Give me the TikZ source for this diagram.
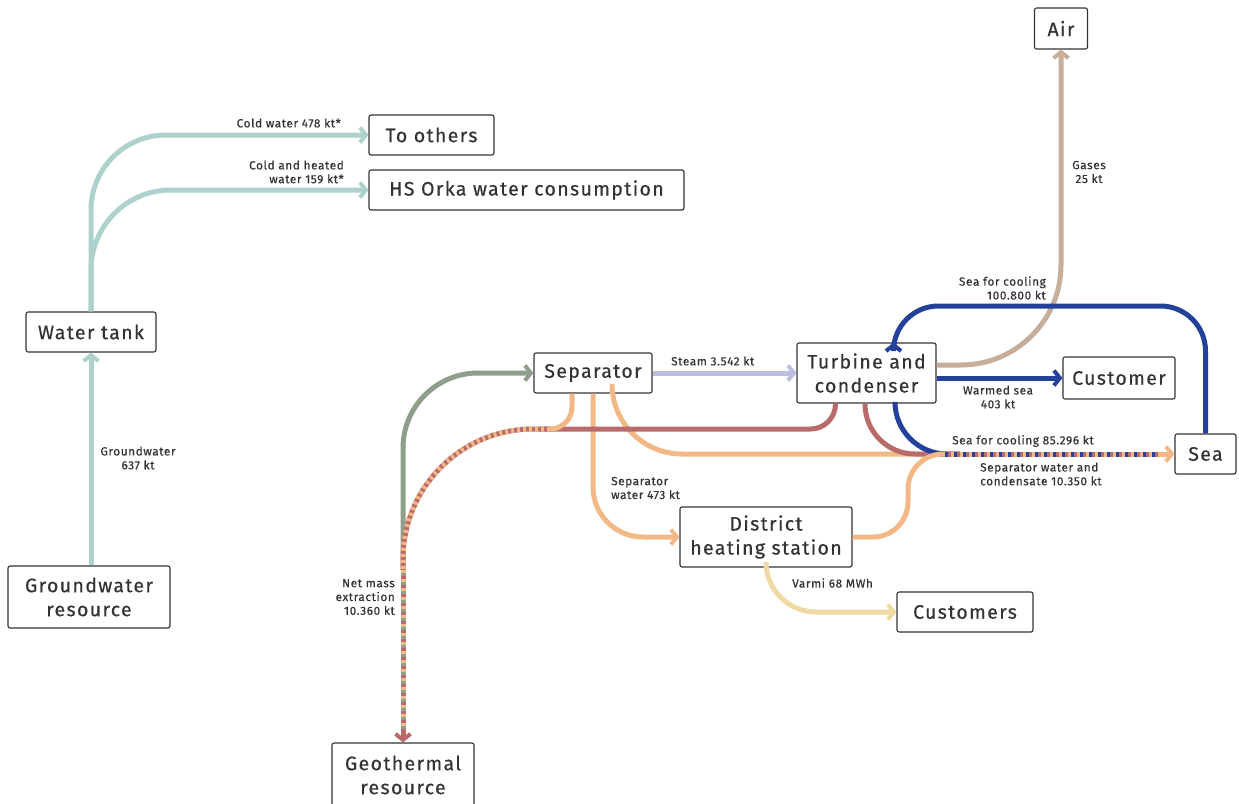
\documentclass[tikz,border=0pt]{standalone}
\usepackage{fontspec}
\setmainfont{Fira Sans}
\newfontfamily\boxfont{Fira Sans}[LetterSpace=7, FakeBold=0.5]
\newfontfamily\lblfont{Fira Sans}[LetterSpace=5, FakeBold=0.4]
\usetikzlibrary{arrows.meta}
\definecolor{cTeal}{HTML}{AED1CD}
\definecolor{cLav}{HTML}{BCBEE0}
\definecolor{cTan}{HTML}{C6AE9A}
\definecolor{cBlue}{HTML}{23409A}
\definecolor{cRed}{HTML}{B96B6B}
\definecolor{cOrange}{HTML}{F2B987}
\definecolor{cGreen}{HTML}{8F9E8A}
\definecolor{cYellow}{HTML}{EFD9A5}
\definecolor{cText}{HTML}{333333}
\tikzset{
  box/.style={draw=cText, rounded corners=2pt, line width=1.1pt, fill=white, text=cText,
    font=\boxfont\fontsize{19.5}{24}\selectfont, align=center, inner sep=0pt},
  flow/.style={line width=5pt},
  tip/.style={-{Straight Barb[length=6pt,width=15pt,line width=4pt]}},
  lbl/.style={font=\lblfont\fontsize{11.8}{13.8}\selectfont, text=cText, inner sep=0pt},
}
\begin{document}
\begin{tikzpicture}[x=1pt,y=-1pt]
\clip (0,0) rectangle (1239,803);
\fill[white] (0,0) rectangle (1239,803);
% nodes
\node[box, minimum width=53pt, minimum height=41pt] (air) at (1061,28.5) {Air};
\node[box, minimum width=125pt, minimum height=40pt] (oth) at (431.5,135) {To others};
\node[box, minimum width=315pt, minimum height=40pt] (hs) at (526.5,190) {HS Orka water consumption};
\node[box, minimum width=130pt, minimum height=40pt] (wt) at (91,332) {Water tank};
\node[box, minimum width=118pt, minimum height=40pt] (sep) at (593,373) {Separator};
\node[box, minimum width=139pt, minimum height=60pt] (turb) at (866.5,373) {Turbine and\\condenser};
\node[box, minimum width=112pt, minimum height=42pt] (cust) at (1119,378) {Customer};
\node[box, minimum width=61pt, minimum height=40pt] (sea) at (1205.5,454) {Sea};
\node[box, minimum width=172pt, minimum height=60pt] (dhs) at (766,537) {District\\heating station};
\node[box, minimum width=136pt, minimum height=40pt] (custs) at (965,612) {Customers};
\node[box, minimum width=162pt, minimum height=62pt] (gw) at (89,597) {Groundwater\\resource};
\node[box, minimum width=142pt, minimum height=64pt] (geo) at (403,775) {Geothermal\\resource};
% helper coordinates
\coordinate (j1) at (550,429);
\coordinate (j2) at (403,570);
\coordinate (j3) at (945,454);
% groundwater
\draw[flow, cTeal, tip] (gw.north -| wt.south) -- (wt.south);
\draw[flow, cTeal, tip, rounded corners=75pt] (wt.north) |- (oth.west);
\draw[flow, cTeal, tip, rounded corners=80pt] (wt.north) |- (hs.west);
% steam
\draw[flow, cLav, tip] (sep.east) -- (turb.west);
% gases
\draw[flow, cTan, tip, rounded corners=100pt] ([yshift=8pt]turb.east) -| (air.south);
% sea for cooling in
\draw[flow, cBlue, tip, rounded corners=45pt] (sea.north) |- ([xshift=27pt]turb.north |- 0,306) -- ([xshift=27pt]turb.north);
% warmed sea
\draw[flow, cBlue, tip] (turb.east |- cust.west) -- (cust.west);
% separator water to DHS
\draw[flow, cOrange, tip, rounded corners=50pt] (sep.south) |- (dhs.west);
% DHS to customers
\draw[flow, cYellow, tip, rounded corners=50pt] (dhs.south) |- (custs.west);
% flows to sea
\draw[flow, cOrange, rounded corners=70pt] ([xshift=19pt]sep.south) |- ([xshift=15pt]j3);
\draw[flow, cRed, rounded corners=50pt] ([xshift=-1.5pt]turb.south) |- ([xshift=15pt]j3);
\draw[flow, cBlue, rounded corners=52pt] ([xshift=28.5pt]turb.south) |- ([xshift=15pt]j3);
\draw[flow, cOrange, rounded corners=35pt] (dhs.east) -- (908,537) -- (908,454) -- ([xshift=15pt]j3);
\draw[flow, cOrange, tip] (j3) -- (sea.west);
\draw[flow, cBlue, dash pattern=on 3pt off 6pt] (j3) -- ([xshift=-14pt]sea.west);
\draw[flow, cRed, dash pattern=on 3pt off 6pt, dash phase=6pt] (j3) -- ([xshift=-14pt]sea.west);
% reinjection
\draw[flow, cGreen, tip, rounded corners=75pt] (j2) |- (sep.west);
\draw[flow, cRed, rounded corners=25pt] ([xshift=-31pt]turb.south) |- ([xshift=-10pt]j1);
\draw[flow, cOrange, rounded corners=22pt] ([xshift=-21pt]sep.south) |- ([xshift=-8pt]j1);
\draw[flow, cRed, rounded corners=130pt] (j1) -- (j1 -| j2) -- (j2);
\draw[flow, cOrange, dash pattern=on 3pt off 3pt, rounded corners=130pt] (j1) -- (j1 -| j2) -- (j2);
\draw[flow, cRed, tip] (j2) -- (geo.north);
\draw[flow, cOrange, dash pattern=on 3pt off 6pt] (j2) -- ([yshift=12pt]geo.north);
\draw[flow, cGreen, dash pattern=on 3pt off 6pt, dash phase=6pt] (j2) -- ([yshift=12pt]geo.north);
% labels
\node[lbl, anchor=east] at (341,123) {Cold water 478 kt*};
\node[lbl, anchor=east, align=right] at (344,172) {Cold and heated\\water 159 kt*};
\node[lbl, align=center] at (138,458) {Groundwater\\637 kt};
\node[lbl, anchor=west] at (671,361) {Steam 3.542 kt};
\node[lbl, align=center] at (1089,172) {Gases\\25 kt};
\node[lbl, anchor=east, align=right] at (1046,288) {Sea for cooling\\100.800 kt};
\node[lbl, align=center] at (998,397) {Warmed sea\\403 kt};
\node[lbl, anchor=west] at (952,441) {Sea for cooling 85.296 kt};
\node[lbl, anchor=west, align=left] at (980,474) {Separator water and\\condensate 10.350 kt};
\node[lbl, anchor=west, align=left] at (611,488) {Separator\\water 473 kt};
\node[lbl, anchor=west] at (792,583) {Varmi 68 MWh};
\node[lbl, anchor=east, align=right] at (395,597) {Net mass\\extraction\\10.360 kt};
\end{tikzpicture}
\end{document}
